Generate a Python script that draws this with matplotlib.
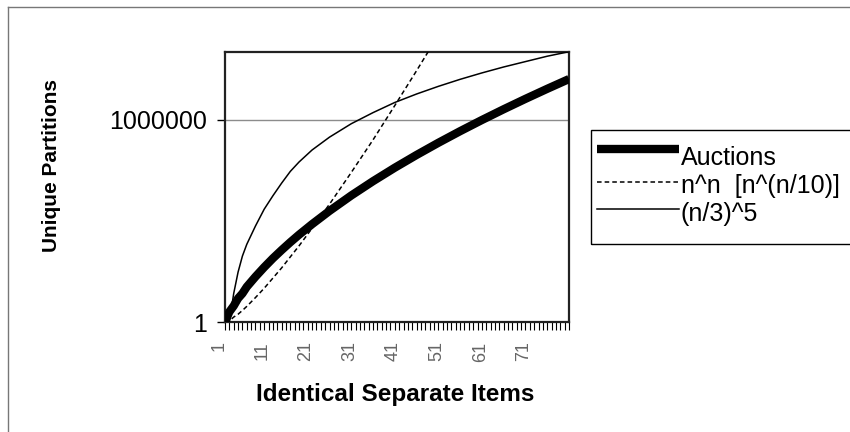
import matplotlib
matplotlib.use("Agg")
import matplotlib.pyplot as plt
import matplotlib.transforms as mtransforms
from matplotlib.lines import Line2D
from matplotlib.patches import Rectangle
from matplotlib.ticker import NullLocator

plt.rcParams["font.family"] = ["Liberation Sans", "DejaVu Sans"]

# values (log scale, so estimates)
n_auctions = [1, 2, 3, 4, 5, 6, 8, 10, 12, 14, 16, 18, 21, 25, 30, 35, 40, 45,
              50, 55, 60, 65, 70, 75, 80]
auctions = [1, 2, 3, 5, 7, 11, 22, 42, 77, 135, 231, 385, 792, 1958, 5604,
            14883, 37338, 89134, 204226, 451276, 966467, 2012558, 4087968,
            8118264, 15796476]

n_nn = [1, 2, 3, 4, 5, 6, 8, 10, 12, 14, 16, 18, 21, 25, 30, 35, 40, 45, 48, 50]
nn = [1, 1.07, 1.4, 1.7, 2.2, 2.9, 5.3, 10, 20, 40, 85, 180, 600, 3100, 27000,
      250000, 2.6e6, 2.8e7, 1.2e8, 3e8]

n_fifth = [1, 2, 3, 4, 5, 6, 8, 10, 12, 14, 16, 18, 21, 25, 30, 35, 40, 45,
           50, 55, 60, 65, 70, 75, 80]
fifth = [0.03, 1, 7, 30, 90, 200, 700, 2200, 5500, 13000, 29000, 55000,
         125000, 300000, 750000, 1.6e6, 3.2e6, 5.7e6, 9.6e6, 1.55e7, 2.4e7,
         3.6e7, 5.2e7, 7.5e7, 1.02e8]

series_labels = ["Auctions", "n^n  [n^(n/10)]", "(n/3)^5"]
x_tick_values = list(range(1, 81))
x_tick_labels = [str(v) if v in (1, 11, 21, 31, 41, 51, 61, 71) else "" for v in x_tick_values]
y_tick_values = [1, 1000000]
y_tick_labels = ["1", "1000000"]

W, H = 850, 432
fig = plt.figure(figsize=(W / 100, H / 100), dpi=100)


def fx(px):
    return px / W


def fy(py):
    return 1 - py / H


ax = fig.add_axes([fx(225), fy(322), fx(569) - fx(225), fy(52) - fy(322)])

styles = [
    dict(color="black", lw=6.0, ls="-", solid_capstyle="butt"),
    dict(color="black", lw=1.1, ls=(0, (3, 2))),
    dict(color="black", lw=1.1, ls="-"),
]
ax.plot(n_auctions, auctions, zorder=3, **styles[0])
ax.plot(n_nn, nn, zorder=4, **styles[1])
ax.plot(n_fifth, fifth, zorder=4, **styles[2])

ax.set_yscale("log")
ax.set_ylim(1, 1e8)
ax.set_xlim(1, 80)
ax.set_yticks(y_tick_values)
ax.set_yticklabels(y_tick_labels, fontsize=18)
ax.yaxis.set_minor_locator(NullLocator())
ax.set_xticks(x_tick_values)
ax.set_xticklabels(x_tick_labels, rotation=90, fontsize=13, color="#666666")
ax.tick_params(axis="y", direction="out", length=6, width=1, pad=7)
ax.tick_params(axis="x", direction="out", length=6, width=0.8, pad=8)
ax.grid(axis="y", color="#8c8c8c", lw=1)
ax.set_axisbelow(True)
for sp in ax.spines.values():
    sp.set_color("#222222")
    sp.set_linewidth(1.6)

# Excel puts the category labels a little left of their ticks
shift = mtransforms.ScaledTranslation(-6 / 100, 0, fig.dpi_scale_trans)
for lab in ax.get_xticklabels():
    lab.set_transform(lab.get_transform() + shift)

fig.text(fx(52), fy(166), "Unique Partitions", rotation=90, fontsize=15,
         fontweight="bold", ha="center", va="center")
fig.text(fx(395), fy(394), "Identical Separate Items", fontsize=17.5,
         fontweight="bold", ha="center", va="center")

# outer chart frame (only left and top are inside the picture)
fig.add_artist(Line2D([fx(8), fx(8)], [0, fy(7)], transform=fig.transFigure,
                      color="#777777", lw=1))
fig.add_artist(Line2D([fx(8), 1], [fy(7), fy(7)], transform=fig.transFigure,
                      color="#777777", lw=1))

# legend box, running off the right edge like the original
fig.add_artist(Rectangle((fx(591), fy(244)), fx(870) - fx(591), fy(130) - fy(244),
                         transform=fig.transFigure, fill=False, ec="black", lw=1))
text_y = [158, 186, 214]
line_y = [149, 182, 209]
for lbl, st, ty, ly in zip(series_labels, styles, text_y, line_y):
    fig.add_artist(Line2D([fx(597), fx(679)], [fy(ly), fy(ly)],
                          transform=fig.transFigure, **st))
    fig.text(fx(681), fy(ty), lbl, fontsize=18, ha="left", va="center")

fig.savefig("out.png", dpi=100)
